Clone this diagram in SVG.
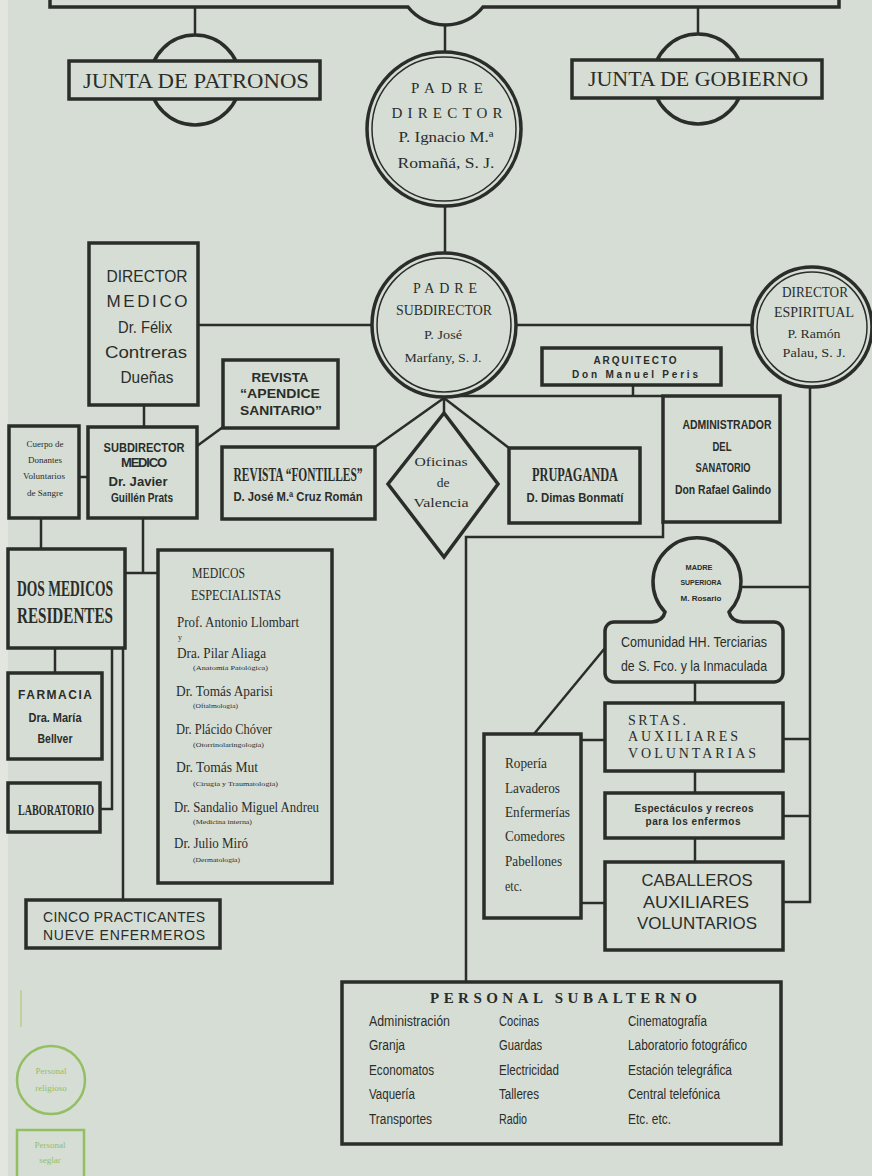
<svg xmlns="http://www.w3.org/2000/svg" width="872" height="1176" viewBox="0 0 872 1176">
<style>
.bgc{fill:#d6ddd5}
.b{fill:#d6ddd5;stroke:#2a2d29;stroke-width:3.5}
.l{fill:none;stroke:#2a2d29;stroke-width:2.5}
.r2{fill:none;stroke:#2a2d29;stroke-width:1.5}
text{fill:#2a2d29}
.sf{font-family:"Liberation Serif",serif}
.ss{font-family:"Liberation Sans",sans-serif}
.c{text-anchor:middle}
.bd{font-weight:bold}
.g{fill:none;stroke:#93bf63;stroke-width:2.5}
.gt{fill:#93bf63;font-family:"Liberation Serif",serif;font-size:9px;text-anchor:middle}
</style>
<rect x="0" y="0" width="872" height="1176" class="bgc"/>
<rect x="0" y="0" width="8" height="1176" fill="#e2e6df"/>

<g id="connectors">
<line class="l" x1="195" y1="7" x2="195" y2="35"/>
<line class="l" x1="698" y1="7" x2="698" y2="34"/>
<line class="l" x1="445" y1="25" x2="445" y2="52"/>
<line class="l" x1="445" y1="205" x2="445" y2="253"/>
<line class="l" x1="198" y1="325" x2="373" y2="325"/>
<line class="l" x1="516" y1="325" x2="752" y2="325"/>
<line class="l" x1="144" y1="405" x2="144" y2="427"/>
<line class="l" x1="197" y1="446" x2="223" y2="427"/>
<line class="l" x1="79" y1="477" x2="88" y2="477"/>
<line class="l" x1="41" y1="518" x2="41" y2="549"/>
<polyline class="l" points="143,518 143,573"/>
<line class="l" x1="125" y1="573" x2="158" y2="573"/>
<line class="l" x1="123" y1="648" x2="123" y2="900"/>
<line class="l" x1="55" y1="648" x2="55" y2="673"/>
<polyline class="l" points="112,648 112,809 100,809"/>
<line class="l" x1="444" y1="398" x2="375" y2="447"/>
<line class="l" x1="444" y1="396" x2="444" y2="413"/>
<line class="l" x1="444" y1="398" x2="509" y2="448"/>
<line class="l" x1="452" y1="396" x2="663" y2="396"/>
<line class="l" x1="633" y1="385" x2="633" y2="396"/>
<polyline class="l" points="663,522 663,537 466,537 466,982"/>
<polyline class="l" points="810,387 810,902 783,902"/>
<line class="l" x1="741" y1="587" x2="810" y2="587"/>
<line class="l" x1="783" y1="739" x2="810" y2="739"/>
<line class="l" x1="783" y1="816" x2="810" y2="816"/>
<line class="l" x1="695" y1="682" x2="695" y2="703"/>
<line class="l" x1="695" y1="771" x2="695" y2="793"/>
<line class="l" x1="695" y1="838" x2="695" y2="862"/>
<line class="l" x1="605" y1="648" x2="534" y2="734"/>
<line class="l" x1="581" y1="740" x2="605" y2="740"/>
<line class="l" x1="581" y1="903" x2="605" y2="903"/>
</g>

<g id="top-box">
<path d="M50 0 V7 H408 A48 48 0 0 0 483 7 H839 V0" fill="none" stroke="#2a2d29" stroke-width="3.5"/>
</g>

<g id="junta-patronos">
<circle cx="195" cy="80" r="45" class="b"/>
<rect x="69" y="61" width="251" height="38" class="b"/>
<text x="196" y="88" class="sf c" font-size="22" textLength="226" lengthAdjust="spacingAndGlyphs">JUNTA DE PATRONOS</text>
</g>

<g id="junta-gobierno">
<circle cx="698" cy="79" r="45" class="b"/>
<rect x="572" y="60" width="250" height="38" class="b"/>
<text x="698" y="86" class="sf c" font-size="22" textLength="220" lengthAdjust="spacingAndGlyphs">JUNTA DE GOBIERNO</text>
</g>

<g id="padre-director">
<circle cx="444" cy="129" r="77" class="b"/>
<circle cx="444" cy="129" r="72" class="r2"/>
<text x="447" y="93" class="sf c" font-size="15" textLength="72" lengthAdjust="spacing">PADRE</text>
<text x="447" y="118" class="sf c" font-size="15" textLength="111" lengthAdjust="spacing">DIRECTOR</text>
<text x="446" y="142" class="sf c" font-size="14" textLength="95" lengthAdjust="spacingAndGlyphs">P. Ignacio M.ª</text>
<text x="446" y="168" class="sf c" font-size="14" textLength="97" lengthAdjust="spacingAndGlyphs">Romañá, S. J.</text>
</g>

<g id="padre-subdirector">
<circle cx="444" cy="325" r="72" class="b"/>
<circle cx="444" cy="325" r="67" class="r2"/>
<text x="445" y="293" class="sf c" font-size="14" textLength="64" lengthAdjust="spacing">PADRE</text>
<text x="444" y="315" class="sf c" font-size="14" textLength="96" lengthAdjust="spacingAndGlyphs">SUBDIRECTOR</text>
<text x="443" y="339" class="sf c" font-size="13" textLength="38" lengthAdjust="spacingAndGlyphs">P. José</text>
<text x="443" y="362" class="sf c" font-size="13" textLength="77" lengthAdjust="spacingAndGlyphs">Marfany, S. J.</text>
</g>

<g id="director-espiritual">
<circle cx="812" cy="327" r="60" class="b"/>
<circle cx="812" cy="327" r="55" class="r2"/>
<text x="815" y="297" class="sf c" font-size="14" textLength="66" lengthAdjust="spacingAndGlyphs">DIRECTOR</text>
<text x="814" y="317" class="sf c" font-size="14" textLength="80" lengthAdjust="spacingAndGlyphs">ESPIRITUAL</text>
<text x="814" y="338" class="sf c" font-size="13" textLength="53" lengthAdjust="spacingAndGlyphs">P. Ramón</text>
<text x="814" y="357" class="sf c" font-size="13" textLength="63" lengthAdjust="spacingAndGlyphs">Palau, S. J.</text>
</g>

<g id="director-medico">
<rect x="89" y="243" width="109" height="162" class="b"/>
<text x="147" y="282" class="ss c" font-size="17" textLength="81" lengthAdjust="spacingAndGlyphs">DIRECTOR</text>
<text x="147" y="307" class="ss c" font-size="17" textLength="81" lengthAdjust="spacing">MEDICO</text>
<text x="145" y="333" class="ss c" font-size="17" textLength="54" lengthAdjust="spacingAndGlyphs">Dr. Félix</text>
<text x="146" y="358" class="ss c" font-size="17" textLength="82" lengthAdjust="spacingAndGlyphs">Contreras</text>
<text x="147" y="383" class="ss c" font-size="17" textLength="53" lengthAdjust="spacingAndGlyphs">Dueñas</text>
</g>

<g id="revista-apendice">
<rect x="223" y="360" width="115" height="68" class="b"/>
<text x="280" y="382" class="ss c bd" font-size="12" textLength="57" lengthAdjust="spacingAndGlyphs">REVISTA</text>
<text x="280" y="398" class="ss c bd" font-size="12" textLength="80" lengthAdjust="spacingAndGlyphs">“APENDICE</text>
<text x="281" y="415" class="ss c bd" font-size="12" textLength="82" lengthAdjust="spacingAndGlyphs">SANITARIO”</text>
</g>

<g id="subdirector-medico">
<rect x="88" y="427" width="109" height="91" class="b"/>
<text x="144" y="452" class="ss c bd" font-size="13" textLength="81" lengthAdjust="spacingAndGlyphs">SUBDIRECTOR</text>
<text x="144" y="467" class="ss c bd" font-size="13" textLength="46" lengthAdjust="spacing">MEDICO</text>
<text x="138" y="486" class="ss c bd" font-size="13" textLength="59" lengthAdjust="spacingAndGlyphs">Dr. Javier</text>
<text x="142" y="502" class="ss c bd" font-size="13" textLength="62" lengthAdjust="spacingAndGlyphs">Guillén Prats</text>
</g>

<g id="cuerpo-donantes">
<rect x="9" y="426" width="70" height="92" class="b"/>
<text x="45" y="447" class="sf c" font-size="8.5" textLength="37" lengthAdjust="spacingAndGlyphs">Cuerpo de</text>
<text x="45" y="463" class="sf c" font-size="8.5" textLength="34" lengthAdjust="spacingAndGlyphs">Donantes</text>
<text x="44" y="479" class="sf c" font-size="8.5" textLength="42" lengthAdjust="spacingAndGlyphs">Voluntarios</text>
<text x="45" y="496" class="sf c" font-size="8.5" textLength="36" lengthAdjust="spacingAndGlyphs">de Sangre</text>
</g>

<g id="revista-fontilles">
<rect x="222" y="447" width="153" height="72" class="b"/>
<text transform="translate(298,481) scale(1,1.2)" x="0" y="0" class="sf c bd" font-size="15" textLength="129" lengthAdjust="spacingAndGlyphs">REVISTA “FONTILLES”</text>
<text x="298" y="501" class="ss c bd" font-size="12" textLength="129" lengthAdjust="spacingAndGlyphs">D. José M.ª Cruz Román</text>
</g>

<g id="oficinas-valencia">
<polygon points="444,413 498,484 444,557 388,484" class="b"/>
<text x="441" y="466" class="sf c" font-size="13.5" textLength="53" lengthAdjust="spacingAndGlyphs">Oficinas</text>
<text x="443" y="487" class="sf c" font-size="13.5">de</text>
<text x="441" y="507" class="sf c" font-size="13.5" textLength="55" lengthAdjust="spacingAndGlyphs">Valencia</text>
</g>

<g id="propaganda">
<rect x="509" y="448" width="131" height="75" class="b"/>
<text x="575" y="481" class="sf c bd" font-size="18" textLength="86" lengthAdjust="spacingAndGlyphs">PRUPAGANDA</text>
<text x="575" y="502" class="ss c bd" font-size="12" textLength="97" lengthAdjust="spacingAndGlyphs">D. Dimas Bonmatí</text>
</g>

<g id="arquitecto">
<rect x="542" y="348" width="179" height="37" class="b"/>
<text x="635" y="364" class="ss c bd" font-size="10" textLength="83" lengthAdjust="spacing">ARQUITECTO</text>
<text x="635" y="378" class="ss c bd" font-size="10" textLength="126" lengthAdjust="spacing">Don Manuel Peris</text>
</g>

<g id="administrador">
<rect x="663" y="396" width="117" height="126" class="b"/>
<text x="727" y="429" class="ss c bd" font-size="12" textLength="89" lengthAdjust="spacingAndGlyphs">ADMINISTRADOR</text>
<text x="722" y="451" class="ss c bd" font-size="12" textLength="19" lengthAdjust="spacingAndGlyphs">DEL</text>
<text x="723" y="472" class="ss c bd" font-size="12" textLength="55" lengthAdjust="spacingAndGlyphs">SANATORIO</text>
<text x="723" y="494" class="ss c bd" font-size="12" textLength="96" lengthAdjust="spacingAndGlyphs">Don Rafael Galindo</text>
</g>

<g id="comunidad">
<rect x="605" y="622" width="178" height="60" rx="9" class="b"/>
<path d="M652 622 Q663 621 665 612 L729 612 Q731 621 742 622 L742 627 L652 627 Z" class="bgc"/>
<text x="694" y="647" class="ss c" font-size="15" textLength="146" lengthAdjust="spacingAndGlyphs">Comunidad HH. Terciarias</text>
<text x="694" y="671" class="ss c" font-size="15" textLength="146" lengthAdjust="spacingAndGlyphs">de S. Fco. y la Inmaculada</text>
</g>

<g id="madre-superiora">
<path d="M652 622 Q663 621 665 612 A44 44 0 1 1 729 612 Q731 621 742 622" class="b"/>
<text x="699" y="570" class="ss c bd" font-size="7" textLength="27" lengthAdjust="spacingAndGlyphs">MADRE</text>
<text x="701" y="585" class="ss c bd" font-size="7" textLength="41" lengthAdjust="spacingAndGlyphs">SUPERIORA</text>
<text x="701" y="601" class="ss c bd" font-size="7" textLength="41" lengthAdjust="spacingAndGlyphs">M. Rosario</text>
</g>

<g id="srtas">
<rect x="605" y="703" width="178" height="68" class="b"/>
<text x="628" y="725" class="sf" font-size="14" textLength="58" lengthAdjust="spacing">SRTAS.</text>
<text x="628" y="741" class="sf" font-size="14" textLength="110" lengthAdjust="spacing">AUXILIARES</text>
<text x="628" y="758" class="sf" font-size="14" textLength="128" lengthAdjust="spacing">VOLUNTARIAS</text>
</g>

<g id="espectaculos">
<rect x="605" y="793" width="178" height="45" class="b"/>
<text x="694" y="812" class="ss c bd" font-size="10" textLength="119" lengthAdjust="spacing">Espectáculos y recreos</text>
<text x="693" y="825" class="ss c bd" font-size="10" textLength="95" lengthAdjust="spacing">para los enfermos</text>
</g>

<g id="caballeros">
<rect x="605" y="862" width="178" height="88" class="b"/>
<text x="697" y="886" class="ss c" font-size="17" textLength="111" lengthAdjust="spacingAndGlyphs">CABALLEROS</text>
<text x="696" y="908" class="ss c" font-size="17" textLength="106" lengthAdjust="spacingAndGlyphs">AUXILIARES</text>
<text x="697" y="929" class="ss c" font-size="17" textLength="120" lengthAdjust="spacingAndGlyphs">VOLUNTARIOS</text>
</g>

<g id="roperia">
<rect x="484" y="734" width="97" height="184" class="b"/>
<text x="505" y="768" class="sf" font-size="14" textLength="42" lengthAdjust="spacingAndGlyphs">Ropería</text>
<text x="505" y="793" class="sf" font-size="14" textLength="55" lengthAdjust="spacingAndGlyphs">Lavaderos</text>
<text x="505" y="817" class="sf" font-size="14" textLength="65" lengthAdjust="spacingAndGlyphs">Enfermerías</text>
<text x="505" y="841" class="sf" font-size="14" textLength="60" lengthAdjust="spacingAndGlyphs">Comedores</text>
<text x="505" y="866" class="sf" font-size="14" textLength="57" lengthAdjust="spacingAndGlyphs">Pabellones</text>
<text x="505" y="891" class="sf" font-size="14" textLength="17" lengthAdjust="spacingAndGlyphs">etc.</text>
</g>

<g id="dos-medicos">
<rect x="8" y="549" width="117" height="99" class="b"/>
<text x="65" y="596" class="sf c bd" font-size="24" textLength="96" lengthAdjust="spacingAndGlyphs">DOS MEDICOS</text>
<text x="65" y="623" class="sf c bd" font-size="24" textLength="96" lengthAdjust="spacingAndGlyphs">RESIDENTES</text>
</g>

<g id="farmacia">
<rect x="8" y="673" width="94" height="86" class="b"/>
<text x="55" y="699" class="ss c bd" font-size="12" textLength="74" lengthAdjust="spacing">FARMACIA</text>
<text x="55" y="722" class="ss c bd" font-size="13" textLength="53" lengthAdjust="spacingAndGlyphs">Dra. María</text>
<text x="55" y="743" class="ss c bd" font-size="13" textLength="35" lengthAdjust="spacingAndGlyphs">Bellver</text>
</g>

<g id="laboratorio">
<rect x="8" y="783" width="92" height="49" class="b"/>
<text x="56" y="815" class="sf c bd" font-size="15" textLength="76" lengthAdjust="spacingAndGlyphs">LABORATORIO</text>
</g>

<g id="medicos-especialistas">
<rect x="158" y="550" width="174" height="333" class="b"/>
<text x="192" y="578" class="sf" font-size="15" textLength="53" lengthAdjust="spacingAndGlyphs">MEDICOS</text>
<text x="191" y="600" class="sf" font-size="15" textLength="90" lengthAdjust="spacingAndGlyphs">ESPECIALISTAS</text>
<text x="177" y="627" class="sf" font-size="15" textLength="122" lengthAdjust="spacingAndGlyphs">Prof. Antonio Llombart</text>
<text x="178" y="640" class="sf" font-size="8">y</text>
<text x="177" y="658" class="sf" font-size="15" textLength="89" lengthAdjust="spacingAndGlyphs">Dra. Pilar Aliaga</text>
<text x="193" y="670" class="sf" font-size="6.5" textLength="75" lengthAdjust="spacingAndGlyphs">(Anatomía Patológica)</text>
<text x="176" y="696" class="sf" font-size="15" textLength="97" lengthAdjust="spacingAndGlyphs">Dr. Tomás Aparisi</text>
<text x="193" y="708" class="sf" font-size="6.5" textLength="45" lengthAdjust="spacingAndGlyphs">(Oftalmología)</text>
<text x="176" y="734" class="sf" font-size="15" textLength="96" lengthAdjust="spacingAndGlyphs">Dr. Plácido Chóver</text>
<text x="193" y="747" class="sf" font-size="6.5" textLength="71" lengthAdjust="spacingAndGlyphs">(Otorrinolaringología)</text>
<text x="176" y="772" class="sf" font-size="15" textLength="82" lengthAdjust="spacingAndGlyphs">Dr. Tomás Mut</text>
<text x="193" y="786" class="sf" font-size="6.5" textLength="85" lengthAdjust="spacingAndGlyphs">(Cirugía y Traumatología)</text>
<text x="174" y="812" class="sf" font-size="15" textLength="145" lengthAdjust="spacingAndGlyphs">Dr. Sandalio Miguel Andreu</text>
<text x="193" y="824" class="sf" font-size="6.5" textLength="59" lengthAdjust="spacingAndGlyphs">(Medicina interna)</text>
<text x="174" y="848" class="sf" font-size="15" textLength="74" lengthAdjust="spacingAndGlyphs">Dr. Julio Miró</text>
<text x="193" y="862" class="sf" font-size="6.5" textLength="47" lengthAdjust="spacingAndGlyphs">(Dermatología)</text>
</g>

<g id="cinco-practicantes">
<rect x="26" y="900" width="194" height="48" class="b"/>
<text x="124" y="922" class="ss c" font-size="14" textLength="162" lengthAdjust="spacing">CINCO PRACTICANTES</text>
<text x="124" y="940" class="ss c" font-size="14" textLength="162" lengthAdjust="spacing">NUEVE ENFERMEROS</text>
</g>

<g id="personal-subalterno">
<rect x="342" y="982" width="439" height="162" class="b"/>
<text x="430" y="1003" class="sf bd" font-size="15" textLength="267" lengthAdjust="spacing">PERSONAL SUBALTERNO</text>
<g class="ss" font-size="14">
<text x="369" y="1026" textLength="81" lengthAdjust="spacingAndGlyphs">Administración</text>
<text x="369" y="1050" textLength="36" lengthAdjust="spacingAndGlyphs">Granja</text>
<text x="369" y="1075" textLength="65" lengthAdjust="spacingAndGlyphs">Economatos</text>
<text x="369" y="1099" textLength="46" lengthAdjust="spacingAndGlyphs">Vaquería</text>
<text x="369" y="1124" textLength="63" lengthAdjust="spacingAndGlyphs">Transportes</text>
<text x="499" y="1026" textLength="40" lengthAdjust="spacingAndGlyphs">Cocinas</text>
<text x="499" y="1050" textLength="43" lengthAdjust="spacingAndGlyphs">Guardas</text>
<text x="499" y="1075" textLength="60" lengthAdjust="spacingAndGlyphs">Electricidad</text>
<text x="499" y="1099" textLength="40" lengthAdjust="spacingAndGlyphs">Talleres</text>
<text x="499" y="1124" textLength="28" lengthAdjust="spacingAndGlyphs">Radio</text>
<text x="628" y="1026" textLength="79" lengthAdjust="spacingAndGlyphs">Cinematografía</text>
<text x="628" y="1050" textLength="119" lengthAdjust="spacingAndGlyphs">Laboratorio fotográfico</text>
<text x="628" y="1075" textLength="104" lengthAdjust="spacingAndGlyphs">Estación telegráfica</text>
<text x="628" y="1099" textLength="92" lengthAdjust="spacingAndGlyphs">Central telefónica</text>
<text x="628" y="1124" textLength="43" lengthAdjust="spacingAndGlyphs">Etc. etc.</text>
</g>
</g>

<g id="legend">
<line x1="21" y1="990" x2="21" y2="1027" stroke="#c3cf9a" stroke-width="2"/>
<circle cx="51" cy="1080" r="34" class="g"/>
<text x="51" y="1074" class="gt">Personal</text>
<text x="51" y="1091" class="gt">religioso</text>
<rect x="17" y="1130" width="67" height="50" class="g" stroke-width="3"/>
<text x="50" y="1148" class="gt">Personal</text>
<text x="50" y="1163" class="gt">seglar</text>
</g>
</svg>
